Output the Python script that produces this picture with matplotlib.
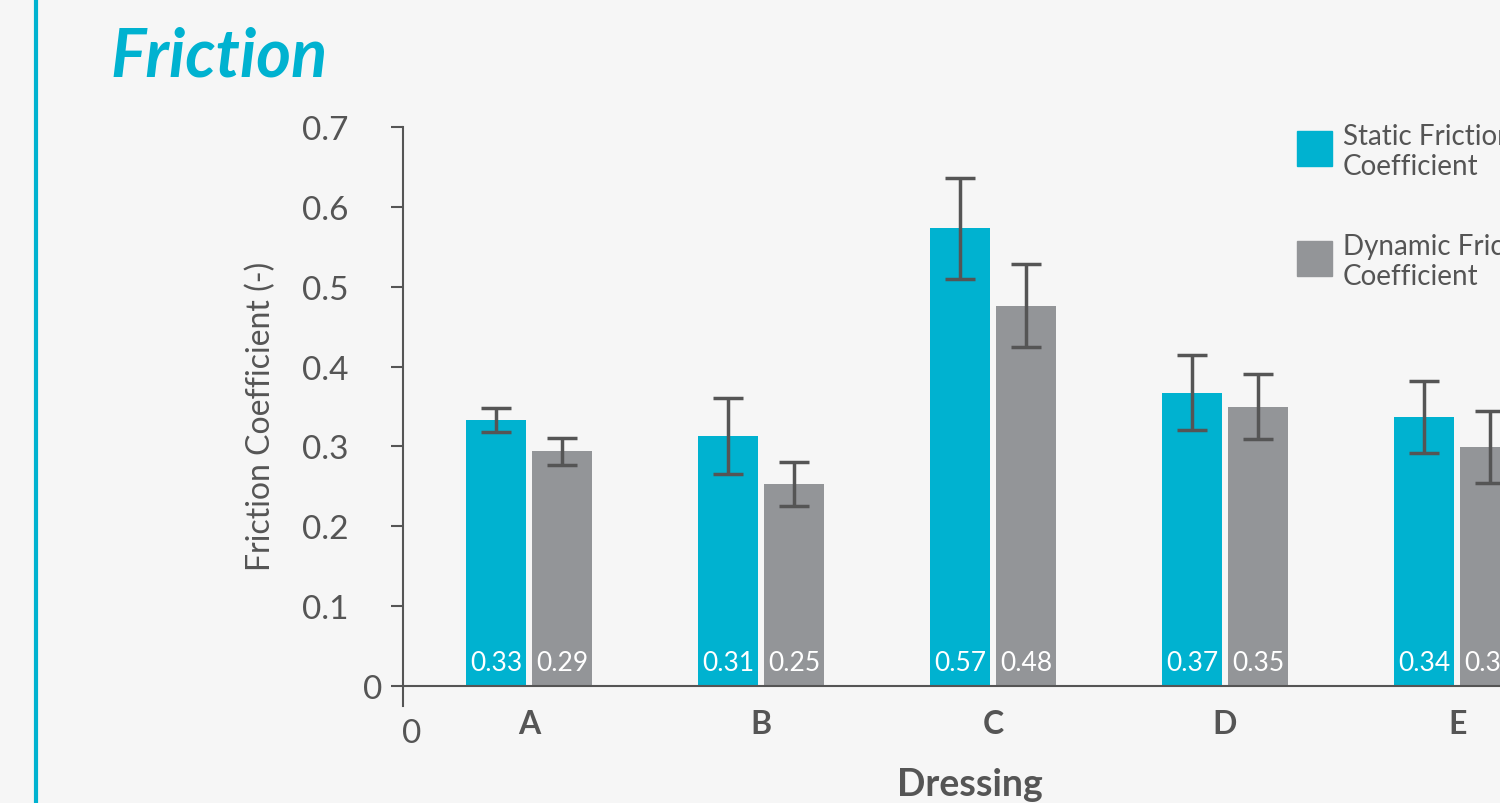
import numpy as np
import matplotlib
matplotlib.use("Agg")
import matplotlib.pyplot as plt
from matplotlib.lines import Line2D

# data
dressings = ["A", "B", "C", "D", "E"]
static_vals = [0.333, 0.313, 0.573, 0.367, 0.337]
static_err = [0.015, 0.048, 0.063, 0.047, 0.045]
dynamic_vals = [0.294, 0.253, 0.476, 0.350, 0.299]
dynamic_err = [0.017, 0.027, 0.052, 0.041, 0.045]
yticks = [0, 0.1, 0.2, 0.3, 0.4, 0.5, 0.6, 0.7]

CYAN = "#00b2d0"
GREY = "#939598"
TXT = "#555555"
BG = "#f6f6f6"

plt.rcParams["font.family"] = ["Lato", "DejaVu Sans"]

fig = plt.figure(figsize=(15, 8.04), dpi=100, facecolor=BG)
ax = fig.add_axes([403 / 1500, 1 - 707 / 804, 1 - 403 / 1500, (707 - 128) / 804])
ax.set_facecolor(BG)

x = np.arange(len(dressings))
w = 0.2586
off = 0.142
err_kw = dict(ecolor=TXT, elinewidth=2.5, capsize=11, capthick=2.5)
ax.bar(x - off, static_vals, w, color=CYAN, yerr=static_err, error_kw=err_kw)
ax.bar(x + off, dynamic_vals, w, color=GREY, yerr=dynamic_err, error_kw=err_kw)

for xi, v in zip(x, static_vals):
    ax.text(xi - off, 0.029, f"{v:.2f}", color="white", fontsize=19,
            ha="center", va="center")
for xi, v in zip(x, dynamic_vals):
    ax.text(xi + off, 0.029, f"{v:.2f}", color="white", fontsize=19,
            ha="center", va="center")

ax.set_xlim(-0.543, 4.185)
ax.set_ylim(-0.025, 0.7)
ax.axhline(0, color=TXT, lw=1.5, zorder=1)
for s in ["top", "right", "bottom"]:
    ax.spines[s].set_visible(False)
ax.spines["left"].set_color(TXT)
ax.spines["left"].set_linewidth(1.5)

ax.set_yticks(yticks)
ax.set_yticklabels(["" if t == 0 else f"{t:.1f}" for t in yticks])
ax.tick_params(axis="y", colors=TXT, labelsize=24, length=9, width=1.5, pad=30)
ax.set_xticks(x)
ax.set_xticklabels(dressings, fontweight="bold")
ax.tick_params(axis="x", colors=TXT, labelsize=23, length=0, pad=2)
ax.set_ylabel("Friction Coefficient (-)", color=TXT, fontsize=23)
ax.yaxis.set_label_coords((276 - 403) / 1097, (707 - 416) / 579)
ax.set_xlabel("Dressing", color=TXT, fontsize=27, fontweight="bold")
ax.xaxis.set_label_coords((970 - 403) / 1097, (707 - 768) / 579)

# zero labels near the origin
fig.text(373 / 1500, 1 - 690 / 804, "0", color=TXT, fontsize=24, ha="center", va="center")
fig.text(412 / 1500, 1 - 734 / 804, "0", color=TXT, fontsize=24, ha="center", va="center")

# legend
for yy, col, lab in [(150, CYAN, "Static Friction\nCoefficient"),
                     (260, GREY, "Dynamic Friction\nCoefficient")]:
    fig.patches.append(plt.Rectangle((1297 / 1500, 1 - (yy + 17) / 804), 35 / 1500, 35 / 804,
                                     transform=fig.transFigure, color=col))
    fig.text(1343 / 1500, 1 - (yy + 2) / 804, lab, color=TXT, fontsize=20,
             ha="left", va="center", linespacing=1.2)

# title and accent line
fig.text(110 / 1500, 1 - 57 / 804, "Friction", color=CYAN, fontsize=48,
         fontweight="bold", fontstyle="italic", ha="left", va="center")
fig.add_artist(Line2D([36 / 1500, 36 / 1500], [0, 1], color=CYAN, lw=3,
                      transform=fig.transFigure))

fig.savefig("out.png", dpi=100, facecolor=BG)
